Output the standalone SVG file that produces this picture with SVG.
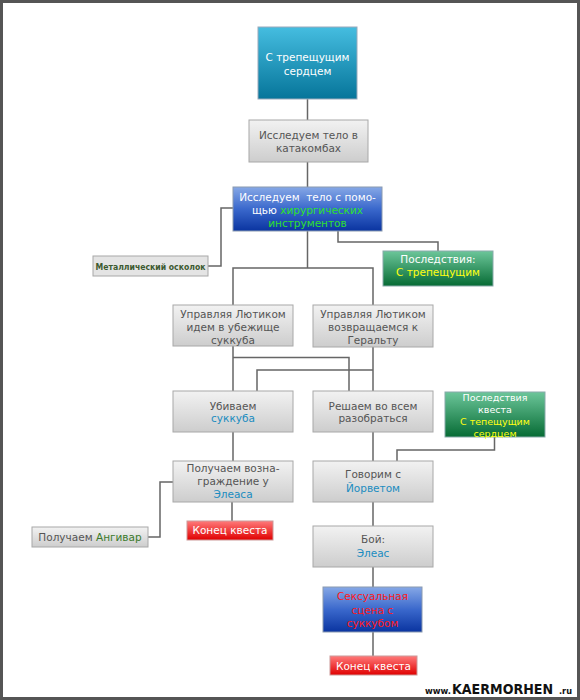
<svg xmlns="http://www.w3.org/2000/svg" width="580" height="700" viewBox="0 0 580 700">
<defs>
<linearGradient id="gGray" x1="0" y1="0" x2="0" y2="1"><stop offset="0" stop-color="#f2f2f2"/><stop offset="1" stop-color="#cdcdcd"/></linearGradient>
<linearGradient id="gTeal" x1="0" y1="0" x2="0" y2="1"><stop offset="0" stop-color="#45bde0"/><stop offset="1" stop-color="#06759a"/></linearGradient>
<linearGradient id="gBlue" x1="0" y1="0" x2="0" y2="1"><stop offset="0" stop-color="#86a8e6"/><stop offset="0.5" stop-color="#3a68cc"/><stop offset="1" stop-color="#0a34a0"/></linearGradient>
<linearGradient id="gGreen" x1="0" y1="0" x2="0" y2="1"><stop offset="0" stop-color="#6cc69a"/><stop offset="1" stop-color="#066b34"/></linearGradient>
<linearGradient id="gRed" x1="0" y1="0" x2="0" y2="1"><stop offset="0" stop-color="#ff7a7a"/><stop offset="1" stop-color="#e00000"/></linearGradient>
</defs>
<style>
text{font-family:"DejaVu Sans",Verdana,sans-serif;font-size:10.5px;text-anchor:middle}
.gray rect{fill:url(#gGray);stroke:#a8a8a8;stroke-width:1}
.gray text{fill:#555}
.teal rect{fill:url(#gTeal);stroke:#9ab;stroke-width:1}
.blue rect{fill:url(#gBlue);stroke:#8a9ab0;stroke-width:1}
.green rect{fill:url(#gGreen);stroke:#8aa;stroke-width:1}
.red rect{fill:url(#gRed);stroke:#c99;stroke-width:1}
svg .w{fill:#fff}
svg .cy{fill:#1a8cc0}
svg .lg{fill:#2ee02e}
svg .yl{fill:#ffff10}
svg .rd{fill:#ff1a1a}
svg .ang{fill:#3a7a2a}
#connectors path{fill:none;stroke:#666;stroke-width:1.5}
.wm{text-anchor:start;font-weight:bold;fill:#111}
</style>
<rect x="1.5" y="1.5" width="577" height="697" fill="#fff" stroke="#555" stroke-width="3"/>
<g id="connectors">
<path d="M307.5,99V120"/>
<path d="M307.5,162V187"/>
<path d="M233,208H221V266H208"/>
<path d="M338,231V242H438V251"/>
<path d="M307.5,231V268"/>
<path d="M233,305V268H373V305"/>
<path d="M233,346V391"/>
<path d="M233,357.5H349V392"/>
<path d="M373,347V392"/>
<path d="M257,392V370H373"/>
<path d="M233,432V461"/>
<path d="M373,432V461"/>
<path d="M494.5,437V450H397V461"/>
<path d="M173,482H160V537H148"/>
<path d="M232,502V521"/>
<path d="M373,502V526"/>
<path d="M373,567V587"/>
<path d="M373,632V656"/>
</g>
<g id="n1" class="teal"><rect x="258" y="27" width="99" height="72"/><text x="307.5" y="61" class="w">С трепещущим</text><text x="307.5" y="75" class="w">сердцем</text></g>
<g id="n2" class="gray"><rect x="249" y="120" width="119" height="42"/><text x="308.5" y="139">Исследуем тело в</text><text x="308.5" y="152">катакомбах</text></g>
<g id="n3" class="blue"><rect x="233" y="187" width="149" height="44"/><text x="307.5" y="201" class="w" xml:space="preserve">Исследуем  тело с помо-</text><text x="307.5" y="214"><tspan class="w">щью </tspan><tspan class="lg">хирургических</tspan></text><text x="307.5" y="227" class="lg">инструментов</text></g>
<g id="n4" class="gray"><rect x="93" y="256" width="115" height="20" style="fill:#e4e4e4"/><text x="150.5" y="270" style="fill:#3c5a30;font-size:9px;font-weight:bold" textLength="110" lengthAdjust="spacingAndGlyphs">Металлический осколок</text></g>
<g id="n5" class="green"><rect x="383" y="251" width="110" height="35"/><text x="438" y="263" class="w">Последствия:</text><text x="438" y="276" class="yl">С трепещущим</text></g>
<g id="n6" class="gray"><rect x="173" y="305" width="120" height="41"/><text x="233" y="318">Управляя Лютиком</text><text x="233" y="331">идем в убежище</text><text x="233" y="344">суккуба</text></g>
<g id="n7" class="gray"><rect x="313" y="305" width="120" height="42"/><text x="373" y="318">Управляя Лютиком</text><text x="373" y="331">возвращаемся к</text><text x="373" y="344">Геральту</text></g>
<g id="n8" class="gray"><rect x="173" y="391" width="120" height="41"/><text x="233" y="410">Убиваем</text><text x="233" y="422" class="cy">суккуба</text></g>
<g id="n9" class="gray"><rect x="313" y="391" width="120" height="41"/><text x="373" y="410">Решаем во всем</text><text x="373" y="422">разобраться</text></g>
<g id="n10" class="green"><rect x="445" y="392" width="100" height="45"/><text x="495" y="401" class="w" style="font-size:9.5px">Последствия</text><text x="495" y="413" class="w" style="font-size:9.5px">квеста</text><text x="495" y="425" class="yl" style="font-size:9.5px">С тепещущим</text><text x="495" y="437" class="yl" style="font-size:9.5px">сердцем</text></g>
<g id="n11" class="gray"><rect x="173" y="461" width="120" height="41"/><text x="233" y="472">Получаем возна-</text><text x="233" y="485">граждение у</text><text x="233" y="498" class="cy">Элеаса</text></g>
<g id="n12" class="gray"><rect x="313" y="461" width="120" height="41"/><text x="373" y="478">Говорим с</text><text x="373" y="492" class="cy">Йорветом</text></g>
<g id="n13" class="gray"><rect x="32" y="527" width="116" height="20"/><text x="90" y="541"><tspan>Получаем </tspan><tspan class="ang">Ангивар</tspan></text></g>
<g id="n14" class="red"><rect x="187" y="521" width="86" height="19"/><text x="230" y="534" class="w">Конец квеста</text></g>
<g id="n15" class="gray"><rect x="313" y="526" width="120" height="41"/><text x="373" y="543">Бой:</text><text x="373" y="557" class="cy">Элеас</text></g>
<g id="n16" class="blue"><rect x="323" y="587" width="99" height="45"/><text x="372.5" y="600" class="rd">Сексуальная</text><text x="372.5" y="614" class="rd">сцена с</text><text x="372.5" y="627" class="rd">суккубом</text></g>
<g id="n17" class="red"><rect x="330" y="656" width="87" height="19"/><text x="373.5" y="670" class="w">Конец квеста</text></g>
<g id="watermark">
<text x="425" y="694" class="wm" style="font-size:9px" textLength="26" lengthAdjust="spacingAndGlyphs">www.</text>
<text x="452" y="694" class="wm" style="font-size:14px" textLength="101" lengthAdjust="spacingAndGlyphs">KAERMORHEN</text>
<text x="559" y="694" class="wm" style="font-size:8px" textLength="13" lengthAdjust="spacingAndGlyphs">.ru</text>
</g>
</svg>
